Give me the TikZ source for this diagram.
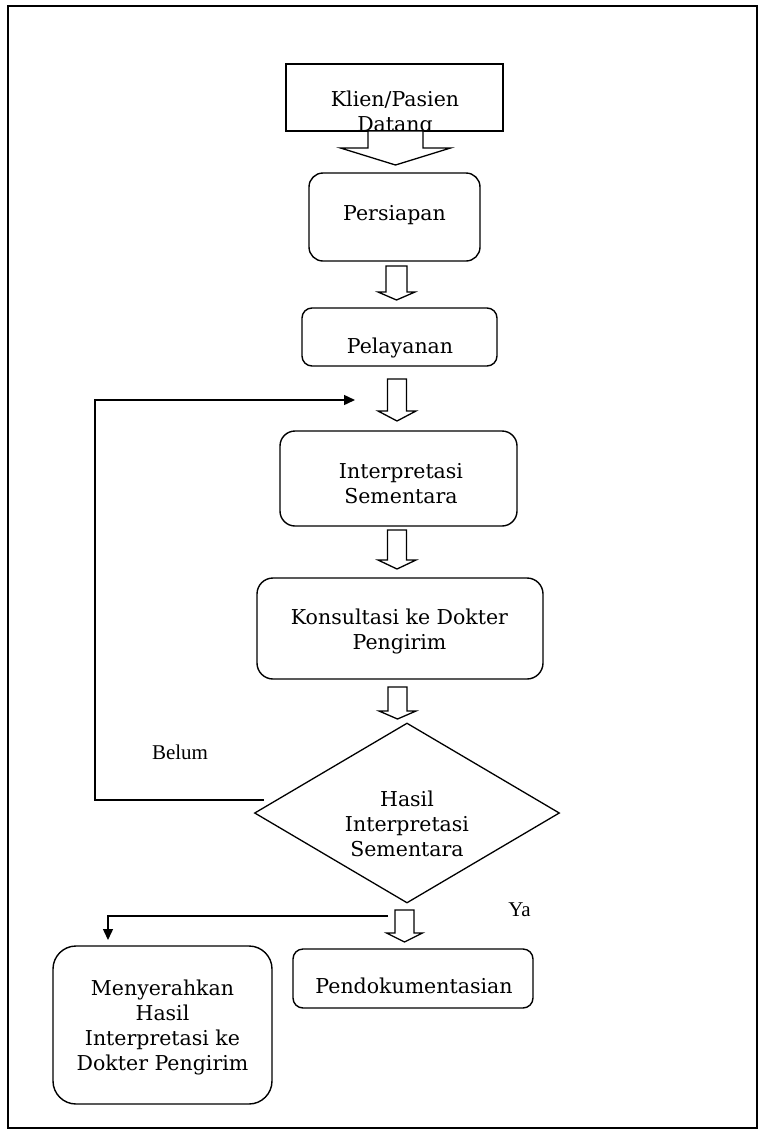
\documentclass[tikz,border=0pt]{standalone}
\usepackage{fontspec}
\setmainfont{DejaVu Serif}
\newfontfamily\lblfont{Liberation Serif}
\usetikzlibrary{shapes.geometric,arrows.meta}
\tikzset{
  boxsq/.style={draw, rectangle, line width=1.4pt, inner sep=0pt},
  boxrd/.style={draw, rectangle, rounded corners=#1, line width=1.4pt, inner sep=0pt},
  dia/.style={draw, diamond, line width=1.3pt, inner sep=0pt},
  txt/.style={anchor=base, inner sep=0pt, font=\fontsize{20.5}{25}\selectfont},
  lbl/.style={anchor=base, inner sep=0pt, font=\lblfont\fontsize{21}{25}\selectfont},
  blockarr/.style={draw, fill=white, line width=1.3pt, line join=miter},
  conn/.style={draw, line width=1.4pt, -{Triangle[length=11pt,width=10pt]}},
  frameline/.style={draw, line width=1.6pt},
  pics/blkdown/.style args={#1/#2/#3/#4}{code={
    \draw[blockarr] (-#1,0) -- (-#1,#2) -- (-#3,#2) -- (0,#2+#4) -- (#3,#2) -- (#1,#2) -- (#1,0) -- cycle;
  }}
}
\begin{document}
\begin{tikzpicture}[x=1pt,y=-1pt]
\useasboundingbox (0,0) rectangle (765,1136);
% frame
\draw[frameline] (8,6) rectangle (757,1128);

% Klien/Pasien Datang (text clipped by box)
\begin{scope}
  \clip (286,64) rectangle (503,131);
  \node[txt] (tklien) at (395,106) {\begin{tabular}[t]{@{}c@{}}Klien/Pasien\\Datang\end{tabular}};
\end{scope}
\node[boxsq, minimum width=217pt, minimum height=67pt] (klien) at (394.5,97.5) {};

% Persiapan
\node[boxrd=14pt, minimum width=171pt, minimum height=88pt] (persiapan) at (394.5,217) {};
\node[txt] (tpersiapan) at (394.5,220) {Persiapan};

% Pelayanan
\node[boxrd=10pt, minimum width=195pt, minimum height=58pt] (pelayanan) at (399.5,337) {};
\node[txt] (tpelayanan) at (400,353) {Pelayanan};

% Interpretasi Sementara
\node[boxrd=15pt, minimum width=237pt, minimum height=95pt] (interp) at (398.5,478.5) {};
\node[txt] (tinterp) at (401,478) {\begin{tabular}[t]{@{}c@{}}Interpretasi\\Sementara\end{tabular}};

% Konsultasi
\node[boxrd=16pt, minimum width=286pt, minimum height=101pt] (konsul) at (400,628.5) {};
\node[txt] (tkonsul) at (399.5,624) {\begin{tabular}[t]{@{}c@{}}Konsultasi ke Dokter\\Pengirim\end{tabular}};

% Decision
\node[dia, minimum width=305pt, minimum height=180pt] (hasil) at (407,813) {};
\node[txt] (thasil) at (407,806) {\begin{tabular}[t]{@{}c@{}}Hasil\\Interpretasi\\Sementara\end{tabular}};

% Menyerahkan
\node[boxrd=23pt, minimum width=219pt, minimum height=158pt] (menyer) at (162.5,1025) {};
\node[txt] (tmenyer) at (162.5,995) {\begin{tabular}[t]{@{}c@{}}Menyerahkan\\Hasil\\Interpretasi ke\\Dokter Pengirim\end{tabular}};

% Pendokumentasian
\node[boxrd=10pt, minimum width=240pt, minimum height=59pt] (pendok) at (413,978.5) {};
\node[txt] (tpendok) at (414,993) {Pendokumentasian};

% labels
\node[lbl] (belum) at (180,759) {Belum};
\node[lbl] (ya) at (519.5,916) {Ya};

% block arrows
\pic at (395.5,131) {blkdown=27.5/17/55/17};
\pic at (396.5,266) {blkdown=10.5/26/18.5/8};
\pic at (397,379) {blkdown=9.5/32/19/10};
\pic at (397,530) {blkdown=9.5/30/19/9};
\pic at (397.5,687) {blkdown=9.5/24/18.5/8};
\pic at (404.5,910) {blkdown=9.5/23/18/9};

% loop back connector (Belum)
\coordinate (belumstart) at (264,800);
\coordinate (looptip) at (355,400);
\draw[conn] (belumstart) -- (95,800) |- (looptip);

% left branch connector
\coordinate (yastart) at (388,916);
\coordinate (menytip) at (108,940);
\draw[conn] (yastart) -| (menytip);
\end{tikzpicture}
\end{document}
